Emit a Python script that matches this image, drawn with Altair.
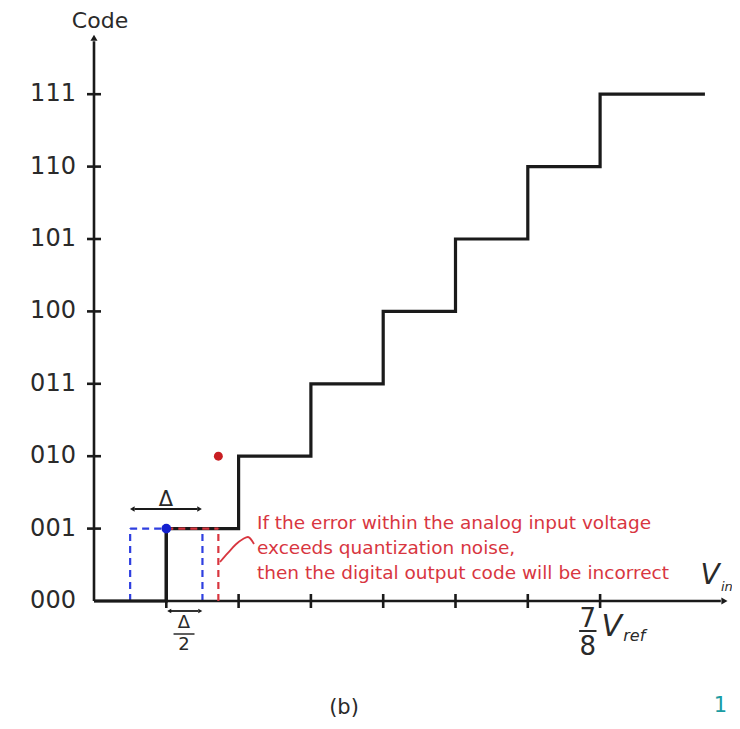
import altair as alt
import pandas as pd

# ---------------- data ----------------
CODES = ["000", "001", "010", "011", "100", "101", "110", "111"]
CODE_LEVELS = [0, 1, 2, 3, 4, 5, 6, 7]
STEP_X = [0, 1, 2, 3, 4, 5, 6, 7, 8.45]
STEP_Y = [0, 1, 2, 3, 4, 5, 6, 7, 7]
X_TICKS = [1, 2, 3, 4, 5, 6, 7]
Y_TICKS = [1, 2, 3, 4, 5, 6, 7]
SAMPLE_POINT = (1, 1)          # blue dot
ERROR_POINT = (1.72, 2)        # red dot
DELTA_LEFT, DELTA_RIGHT = 0.5, 1.5
ERR_X = 1.72
NOTE_LINES = [
    "If the error within the analog input voltage",
    "exceeds quantization noise,",
    "then the digital output code will be incorrect",
]
CURVE_X = [1.743, 1.85, 1.96, 2.061, 2.13, 2.213]
CURVE_Y = [0.539, 0.66, 0.78, 0.856, 0.884, 0.787]
X_AXIS_END = 8.72
Y_AXIS_END = 7.78

# ---------------- scales ----------------
XMIN, XMAX = (8 - 94) / 72.3, (732 - 94) / 72.3
YMIN, YMAX = (601 - 719) / 72.4, (601 - 8) / 72.4
XS = alt.Scale(domain=[XMIN, XMAX], nice=False, zero=False)
YS = alt.Scale(domain=[YMIN, YMAX], nice=False, zero=False)

FONT = "DejaVu Sans"
RED = "#d8363f"
BLUE = "#2f3fe0"
BLACK = "#1a1a1a"


def X(f="x"):
    return alt.X(f"{f}:Q", scale=XS, axis=None)


def Y(f="y"):
    return alt.Y(f"{f}:Q", scale=YS, axis=None)


def segs(rows, color, width, dash=None):
    df = pd.DataFrame(rows, columns=["x", "y", "x2", "y2"])
    kw = dict(color=color, strokeWidth=width)
    if dash:
        kw["strokeDash"] = dash
    return alt.Chart(df).mark_rule(**kw).encode(
        x=X(), y=Y(), x2="x2:Q", y2="y2:Q")


def txt(rows, size, color="#2a2a2a", italic=False, align="center",
        baseline="middle"):
    df = pd.DataFrame(rows, columns=["x", "y", "t"])
    kw = dict(font=FONT, fontSize=size, color=color, align=align,
              baseline=baseline)
    if italic:
        kw["fontStyle"] = "italic"
    return alt.Chart(df).mark_text(**kw).encode(x=X(), y=Y(), text="t:N")


def heads(rows, shape, color, size):
    df = pd.DataFrame(rows, columns=["x", "y"])
    return alt.Chart(df).mark_point(shape=shape, filled=True, color=color,
                                    size=size, opacity=1).encode(x=X(), y=Y())


layers = []

# blue dashed quantization window (under staircase)
layers.append(segs([
    (DELTA_LEFT, 1, SAMPLE_POINT[0] + 0.5, 1),
    (DELTA_LEFT, 0, DELTA_LEFT, 1),
    (DELTA_RIGHT, 0, DELTA_RIGHT, 1),
], BLUE, 2.2, [7, 5]))

# axes
layers.append(segs([(0, 0, X_AXIS_END - 0.05, 0),
                    (0, 0, 0, Y_AXIS_END - 0.05)], BLACK, 2.6))
layers.append(heads([(X_AXIS_END, 0)], "triangle-right", BLACK, 50))
layers.append(heads([(0, Y_AXIS_END)], "triangle-up", BLACK, 50))
tick_u = 7 / 72.3
tick_v = 7 / 72.4
layers.append(segs([(-tick_u, v, tick_u, v) for v in Y_TICKS], BLACK, 2.6))
layers.append(segs([(u, -tick_v, u, tick_v) for u in X_TICKS], BLACK, 2.6))

# staircase transfer curve
stair = pd.DataFrame({"x": STEP_X, "y": STEP_Y})
layers.append(alt.Chart(stair).mark_line(
    interpolate="step-after", color=BLACK, strokeWidth=3.2).encode(x=X(), y=Y()))
layers.append(segs([(SAMPLE_POINT[0], 0, SAMPLE_POINT[0], 1)], BLACK, 3.2))

# red dashed error lines
layers.append(segs([
    (SAMPLE_POINT[0], 1, ERR_X, 1),
    (ERR_X, 0, ERR_X, 1),
], RED, 2.2, [7, 5]))

# red connector curve
curve = pd.DataFrame({"x": CURVE_X, "y": CURVE_Y, "o": range(len(CURVE_X))})
layers.append(alt.Chart(curve).mark_line(
    color=RED, strokeWidth=1.8, interpolate="monotone").encode(
    x=X(), y=Y(), order="o:Q"))

# dots
layers.append(heads([SAMPLE_POINT], "circle", "#1420d0", 95))
layers.append(heads([ERROR_POINT], "circle", "#c81e22", 80))

# delta arrows
d_y = (601 - 509) / 72.4
layers.append(segs([(0.56, d_y, 1.43, d_y)], BLACK, 1.8))
layers.append(heads([(0.53, d_y)], "triangle-left", BLACK, 28))
layers.append(heads([(1.46, d_y)], "triangle-right", BLACK, 28))
layers.append(txt([(0.996, (601 - 500) / 72.4, "Δ")], 21))

h_y = (601 - 611) / 72.4
layers.append(segs([(1.06, h_y, 1.44, h_y)], BLACK, 1.8))
layers.append(heads([(1.04, h_y)], "triangle-left", BLACK, 22))
layers.append(heads([(1.47, h_y)], "triangle-right", BLACK, 22))
layers.append(txt([(1.245, (601 - 623) / 72.4, "Δ"),
                   (1.245, (601 - 645) / 72.4, "2")], 18))
layers.append(segs([(1.1, (601 - 634) / 72.4, 1.39, (601 - 634) / 72.4)],
                   "#2a2a2a", 1.5))

# 7/8 Vref label
layers.append(txt([(6.83, (601 - 619) / 72.4, "7"),
                   (6.83, (601 - 647) / 72.4, "8")], 26))
layers.append(segs([(6.71, (601 - 631) / 72.4, 6.95, (601 - 631) / 72.4)],
                   "#2a2a2a", 2))
layers.append(txt([(7.16, (601 - 627) / 72.4, "V")], 30, italic=True))
layers.append(txt([(7.32, (601 - 636) / 72.4, "ref")], 16, italic=True,
                  align="left"))

# V_in label
layers.append(txt([((710 - 94) / 72.3, (601 - 576) / 72.4, "V")], 28,
                  italic=True))
layers.append(txt([((721 - 94) / 72.3, (601 - 587) / 72.4, "in")], 13,
                  italic=True, align="left"))

# y labels and title
layers.append(txt([(-0.25, v, c) for v, c in zip(CODE_LEVELS, CODES)], 24,
                  align="right"))
layers.append(txt([(0.083, (601 - 21) / 72.4, "Code")], 22))

# note text
note_y = [(601 - 523) / 72.4, (601 - 548) / 72.4, (601 - 573) / 72.4]
layers.append(txt([(2.254, vy, t) for vy, t in zip(note_y, NOTE_LINES)], 18.5,
                  color=RED, align="left"))

# caption and page number
layers.append(txt([(3.458, (601 - 708) / 72.4, "(b)")], 21))
layers.append(txt([((727 - 94) / 72.3, (601 - 706) / 72.4, "1")], 21,
                  color="#1a9ca3", align="right"))

chart = alt.layer(*layers).properties(
    width=724, height=711, padding=0, autosize="none"
).configure_view(stroke=None)

chart.save("out.html", embed_options={"renderer": "svg", "actions": False})
